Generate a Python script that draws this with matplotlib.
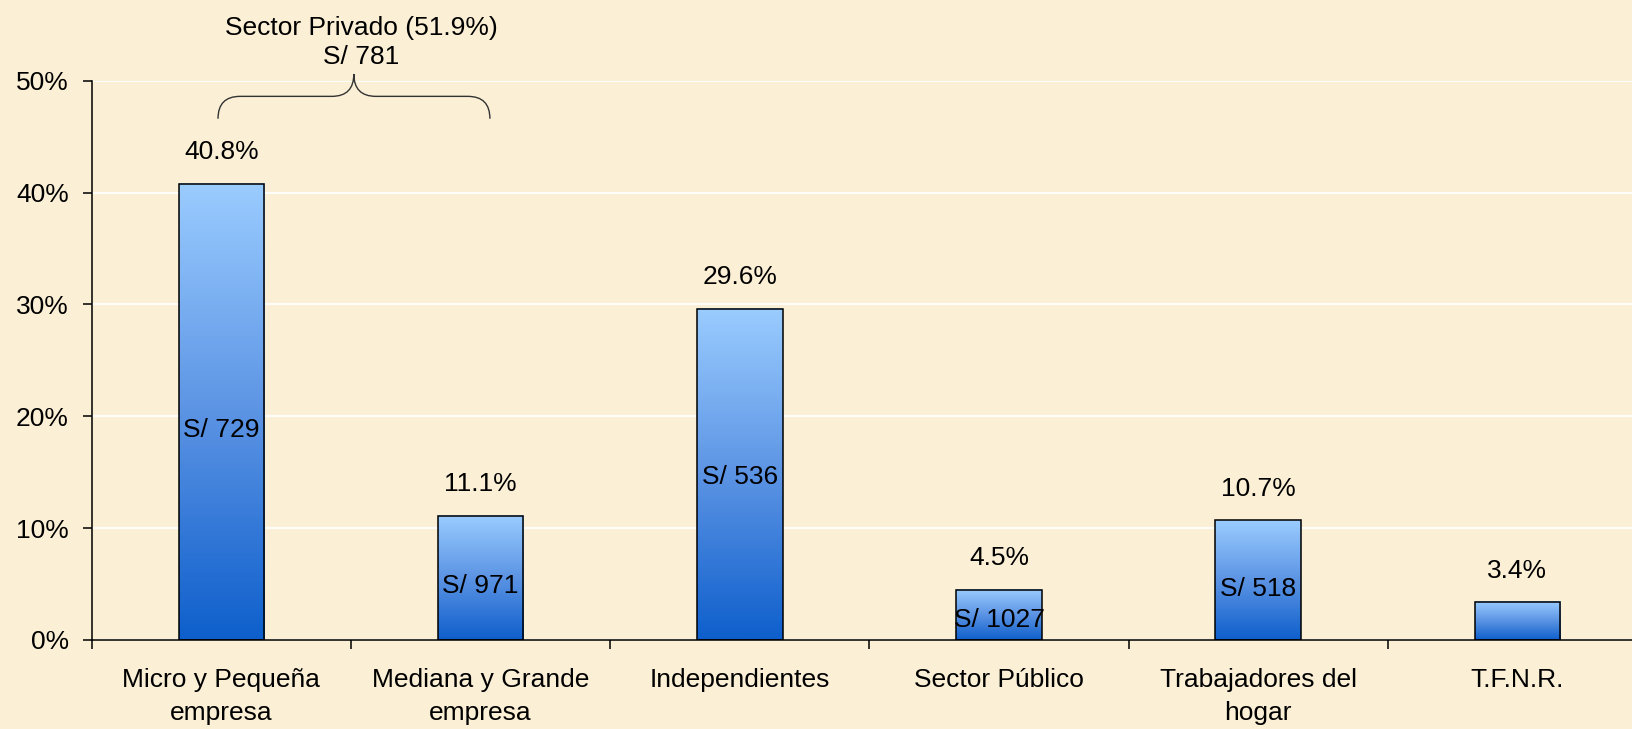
import numpy as np
import matplotlib.pyplot as plt
from matplotlib.colors import LinearSegmentedColormap
from matplotlib.path import Path
from matplotlib.patches import PathPatch
from matplotlib.ticker import FuncFormatter

plt.rcParams['font.family'] = ['Liberation Sans', 'DejaVu Sans']

# data
categories = ["Micro y Pequeña\nempresa", "Mediana y Grande\nempresa", "Independientes",
              "Sector Público", "Trabajadores del\nhogar", "T.F.N.R."]
shares = [40.8, 11.1, 29.6, 4.5, 10.7, 3.4]
incomes = ["S/ 729", "S/ 971", "S/ 536", "S/ 1027", "S/ 518", None]
private_share = 51.9
private_income = 781

# layout: height (in %) where the income label sits inside each bar
income_y = [18.8, 4.8, 14.6, 1.8, 4.6, None]

bg = "#FBEFD5"
fig = plt.figure(figsize=(16.33, 7.29), dpi=100, facecolor=bg)
ax = fig.add_axes([0.0562, 0.1221, 0.9524, 0.7672], facecolor=bg)

cmap = LinearSegmentedColormap.from_list("bar", ["#0E5FCC", "#5C94E4", "#9ACCFF"])
grad = np.linspace(0, 1, 256).reshape(-1, 1)
width = 0.33
x = np.arange(len(categories))

for i, v in enumerate(shares):
    ax.imshow(grad, extent=[i - width / 2, i + width / 2, 0, v], origin="lower",
              cmap=cmap, aspect="auto", zorder=2)
bars = ax.bar(x, shares, width=width, facecolor="none", edgecolor="black", lw=1.1, zorder=3)

for i, v in enumerate(shares):
    ax.annotate(f"{v}%", (i, v), xytext=(0, 14), textcoords="offset points",
                ha="center", va="bottom", fontsize=19)
    if incomes[i]:
        ax.text(i, income_y[i], incomes[i], ha="center", va="center", fontsize=19, zorder=4)

# brace over the private sector bars
x0, x1, xm = -0.013, 1.036, 0.511
yb, yh, yt = 46.6, 48.6, 50.6
d = 0.085
verts = [(x0, yb), (x0, yh), (x0 + d, yh),
         (xm - d, yh), (xm, yh), (xm, yt),
         (xm, yh), (xm + d, yh),
         (x1 - d, yh), (x1, yh), (x1, yb)]
codes = [Path.MOVETO, Path.CURVE3, Path.CURVE3,
         Path.LINETO, Path.CURVE3, Path.CURVE3,
         Path.CURVE3, Path.CURVE3,
         Path.LINETO, Path.CURVE3, Path.CURVE3]
ax.add_patch(PathPatch(Path(verts, codes), facecolor="none", edgecolor="#333333",
                       lw=1.0, clip_on=False, zorder=4))
ax.text(0.54, 53.4, f"Sector Privado ({private_share}%)\nS/ {private_income}",
        ha="center", va="center", multialignment="center", fontsize=19, linespacing=1.25)

ax.set_xlim(-0.5, 5.5)
ax.set_ylim(0, 50)
ax.set_yticks(range(0, 51, 10))
ax.yaxis.set_major_formatter(FuncFormatter(lambda v, p: f"{v:.0f}%"))
ax.set_xticks(x)
ax.set_xticklabels(categories, fontsize=19, linespacing=1.5)
ax.set_xticks(np.arange(-0.5, 6, 1), minor=True)
ax.tick_params(axis="x", which="major", length=0, pad=20)
ax.tick_params(axis="x", which="minor", length=6.5, width=1.1, direction="out")
ax.tick_params(axis="y", length=6.5, width=1.1, direction="out", pad=10, labelsize=19)

ax.yaxis.grid(True, color="white", lw=1.3)
ax.set_axisbelow(True)
for s in ["top", "right"]:
    ax.spines[s].set_visible(False)
for s in ["left", "bottom"]:
    ax.spines[s].set_linewidth(1.1)

fig.savefig("out.png", dpi=100, facecolor=bg)
